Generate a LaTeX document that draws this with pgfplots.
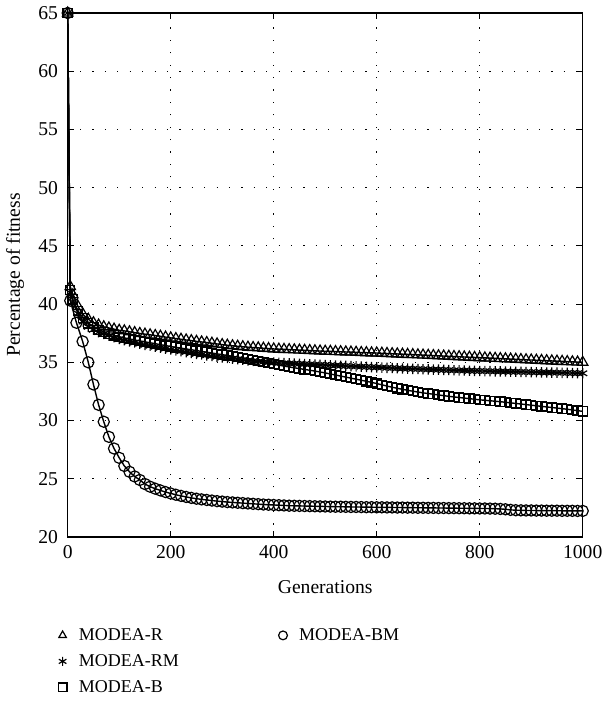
\documentclass[border=0pt]{standalone}
\usepackage{pgfplots}
\pgfplotsset{compat=1.18}
\usepackage{fontspec}
\setmainfont{Liberation Serif}

\begin{document}
\fontsize{9.5}{11}\selectfont
\begin{tikzpicture}
\useasboundingbox (-33.85pt,-82pt) rectangle (267.15pt,268.5pt);
\begin{axis}[
  at={(0pt,0pt)}, anchor=south west,
  scale only axis, width=257.5pt, height=262pt,
  xmin=0, xmax=1000, ymin=20, ymax=65,
  xtick={0,200,...,1000}, ytick={20,25,...,65},
  tick align=inside, major tick length=3pt,
  grid=major, grid style={black, line width=0.5pt, dash pattern=on 0.6pt off 5.6pt},
  axis line style={line width=0.6pt},
  every tick/.style={black, line width=0.6pt},
  /pgf/number format/assume math mode=true,
  /pgf/number format/1000 sep={},
  tick label style={font=\fontsize{9.8}{11}\selectfont},
  yticklabel style={xshift=-1.5pt},
  xticklabel style={yshift=-1pt},
  xlabel={Generations}, ylabel={Percentage of fitness},
  label style={font=\fontsize{9.8}{11}\selectfont},
  xlabel style={at={(axis description cs:0.5,-0.0954)}, anchor=center},
  ylabel style={at={(axis description cs:-0.1023,0.5)}, anchor=center},
  legend columns=2,
  legend cell align=left,
  legend style={draw=none, fill=none, at={(axis description cs:-0.0192,-0.1622)}, anchor=north west,
    inner sep=0pt, row sep=0pt,
    nodes={inner sep=2pt, text height=7pt, text depth=2pt, font=\fontsize{9}{11}\selectfont},
    /tikz/every odd column/.append style={column sep=3.9pt},
    /tikz/every even column/.append style={column sep=47.9pt}},
  legend image code/.code={\draw[#1, mark size=2.2pt] plot coordinates {(0pt,0pt)};},
  every axis plot/.append style={black, line width=0.7pt, mark options={solid, line width=0.6pt, fill=none}},
]
% MODEA-R
\addplot[mark=triangle, mark size=3pt] coordinates {
(0,65) (5,41.5) (10,40.8) (20,39.8) (30,39.1) (40,38.7) (50,38.4) (60,38.2) (70,38.05) (80,37.95) (90,37.85)
(100,37.75) (110,37.7) (120,37.62) (130,37.55) (140,37.48) (150,37.42) (160,37.36) (170,37.3) (180,37.24) (190,37.17)
(200,37.1) (210,37.04) (220,36.98) (230,36.92) (240,36.86) (250,36.8) (260,36.75) (270,36.7) (280,36.64) (290,36.58)
(300,36.52) (310,36.47) (320,36.42) (330,36.38) (340,36.34) (350,36.3) (360,36.27) (370,36.24) (380,36.21) (390,36.18)
(400,36.15) (410,36.13) (420,36.11) (430,36.09) (440,36.07) (450,36.05) (460,36.03) (470,36.01) (480,35.99) (490,35.97)
(500,35.95) (510,35.94) (520,35.92) (530,35.91) (540,35.89) (550,35.88) (560,35.86) (570,35.84) (580,35.83) (590,35.81)
(600,35.8) (610,35.78) (620,35.76) (630,35.74) (640,35.72) (650,35.7) (660,35.68) (670,35.66) (680,35.64) (690,35.62)
(700,35.6) (710,35.58) (720,35.56) (730,35.54) (740,35.52) (750,35.5) (760,35.48) (770,35.46) (780,35.44) (790,35.42)
(800,35.4) (810,35.38) (820,35.36) (830,35.34) (840,35.32) (850,35.3) (860,35.28) (870,35.26) (880,35.24) (890,35.22)
(900,35.2) (910,35.18) (920,35.16) (930,35.14) (940,35.12) (950,35.1) (960,35.08) (970,35.06) (980,35.04) (990,35.02)
(1000,35.0)
};
\addlegendentry{MODEA-R}
% MODEA-BM
\addplot[mark=o, mark size=2.8pt] coordinates {
(0,65) (5,40.3) (17,38.4) (29,36.8) (40,35.0) (50,33.1) (60,31.35) (70,29.9) (80,28.6) (90,27.6)
(100,26.8) (110,26.1) (120,25.6) (130,25.2) (140,24.9) (150,24.55) (160,24.32) (170,24.15) (180,24.0) (190,23.86)
(200,23.74) (210,23.63) (220,23.53) (230,23.44) (240,23.36) (250,23.29) (260,23.23) (270,23.18) (280,23.13) (290,23.08)
(300,23.04) (310,23.0) (320,22.97) (330,22.94) (340,22.91) (350,22.88) (360,22.85) (370,22.82) (380,22.79) (390,22.77)
(400,22.75) (410,22.73) (420,22.71) (430,22.69) (440,22.68) (450,22.67) (460,22.66) (470,22.65) (480,22.64) (490,22.63)
(500,22.62) (510,22.61) (520,22.6) (530,22.6) (540,22.59) (550,22.58) (560,22.58) (570,22.57) (580,22.56) (590,22.56)
(600,22.55) (610,22.55) (620,22.54) (630,22.54) (640,22.53) (650,22.53) (660,22.52) (670,22.52) (680,22.51) (690,22.51)
(700,22.5) (710,22.5) (720,22.49) (730,22.49) (740,22.48) (750,22.48) (760,22.47) (770,22.47) (780,22.46) (790,22.46)
(800,22.45) (810,22.45) (820,22.44) (830,22.43) (840,22.41) (850,22.38) (860,22.33) (870,22.3) (880,22.29) (890,22.28)
(900,22.28) (910,22.27) (920,22.27) (930,22.26) (940,22.26) (950,22.26) (960,22.25) (970,22.25) (980,22.25) (990,22.24)
(1000,22.24)
};
\addlegendentry{MODEA-BM}
% MODEA-RM
\addplot[mark=asterisk, mark size=2.6pt] coordinates {
(0,65) (5,41.0) (10,40.2) (20,39.2) (30,38.5) (40,38.05) (50,37.8) (60,37.6) (70,37.45) (80,37.3) (90,37.15)
(100,37.0) (110,36.9) (120,36.8) (130,36.7) (140,36.6) (150,36.5) (160,36.42) (170,36.34) (180,36.26) (190,36.18)
(200,36.1) (210,36.02) (220,35.95) (230,35.88) (240,35.8) (250,35.73) (260,35.67) (270,35.6) (280,35.54) (290,35.48)
(300,35.42) (310,35.37) (320,35.32) (330,35.27) (340,35.22) (350,35.17) (360,35.12) (370,35.08) (380,35.04) (390,35.0)
(400,34.97) (410,34.95) (420,34.93) (430,34.91) (440,34.89) (450,34.87) (460,34.85) (470,34.83) (480,34.81) (490,34.79)
(500,34.77) (510,34.75) (520,34.73) (530,34.71) (540,34.69) (550,34.67) (560,34.65) (570,34.63) (580,34.61) (590,34.59)
(600,34.57) (610,34.55) (620,34.53) (630,34.51) (640,34.49) (650,34.47) (660,34.46) (670,34.44) (680,34.43) (690,34.41)
(700,34.4) (710,34.38) (720,34.37) (730,34.35) (740,34.34) (750,34.32) (760,34.31) (770,34.3) (780,34.28) (790,34.27)
(800,34.26) (810,34.25) (820,34.24) (830,34.23) (840,34.22) (850,34.21) (860,34.2) (870,34.19) (880,34.18) (890,34.17)
(900,34.16) (910,34.15) (920,34.14) (930,34.13) (940,34.12) (950,34.11) (960,34.1) (970,34.09) (980,34.08) (990,34.07)
(1000,34.06)
};
\addlegendentry{MODEA-RM}
\addlegendimage{empty legend}
\addlegendentry{}
% MODEA-B
\addplot[mark=square, mark size=2.3pt] coordinates {
(0,65) (5,41.2) (10,40.4) (20,39.4) (30,38.8) (40,38.35) (50,38.05) (60,37.8) (70,37.6) (80,37.45) (90,37.32)
(100,37.2) (110,37.1) (120,37.0) (130,36.92) (140,36.84) (150,36.76) (160,36.68) (170,36.6) (180,36.52) (190,36.44)
(200,36.36) (210,36.29) (220,36.22) (230,36.15) (240,36.08) (250,36.01) (260,35.94) (270,35.87) (280,35.8) (290,35.73)
(300,35.66) (310,35.59) (320,35.52) (330,35.45) (340,35.38) (350,35.3) (360,35.22) (370,35.14) (380,35.05) (390,34.95)
(400,34.85) (410,34.76) (420,34.68) (430,34.6) (440,34.53) (450,34.46) (460,34.39) (470,34.32) (480,34.25) (490,34.17)
(500,34.09) (510,34.0) (520,33.91) (530,33.82) (540,33.73) (550,33.64) (560,33.55) (570,33.46) (580,33.37) (590,33.28)
(600,33.18) (610,33.07) (620,32.96) (630,32.86) (640,32.77) (650,32.68) (660,32.6) (670,32.52) (680,32.45) (690,32.38)
(700,32.32) (710,32.26) (720,32.2) (730,32.14) (740,32.08) (750,32.03) (760,31.98) (770,31.93) (780,31.88) (790,31.83)
(800,31.78) (810,31.74) (820,31.7) (830,31.66) (840,31.62) (850,31.57) (860,31.52) (870,31.47) (880,31.42) (890,31.37)
(900,31.32) (910,31.27) (920,31.22) (930,31.17) (940,31.12) (950,31.07) (960,31.02) (970,30.97) (980,30.91) (990,30.85)
(1000,30.79)
};
\addlegendentry{MODEA-B}
\end{axis}
\end{tikzpicture}
\end{document}
